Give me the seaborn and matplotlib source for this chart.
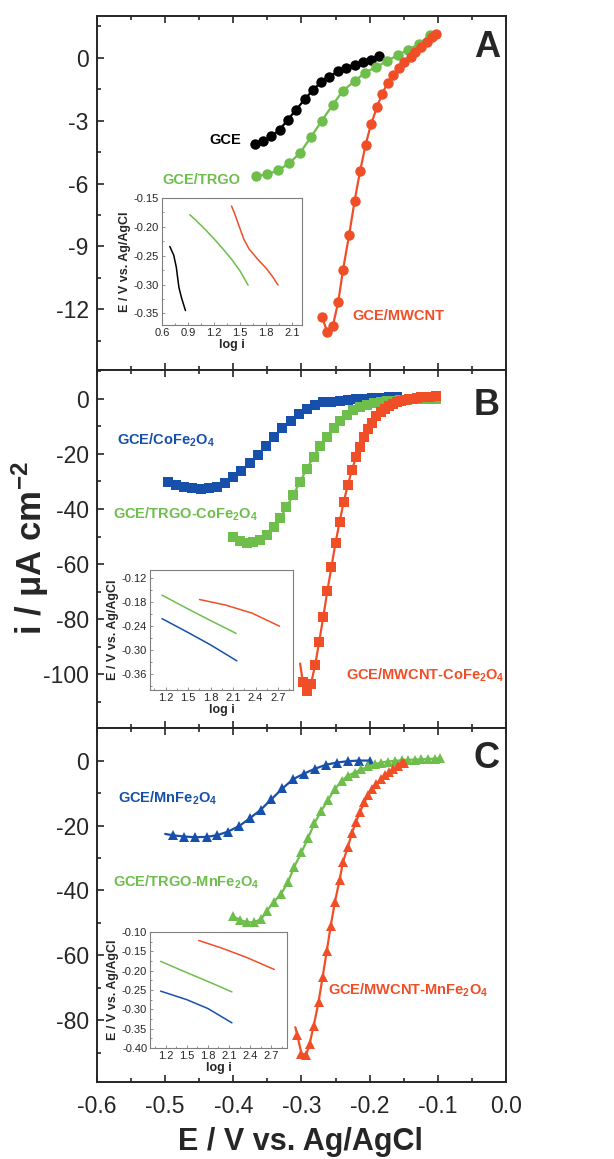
import matplotlib.pyplot as plt
import seaborn as sns
from matplotlib.ticker import MultipleLocator

sns.set_style("ticks")
plt.rcParams["font.family"] = ["Liberation Sans", "DejaVu Sans"]
plt.rcParams["mathtext.fontset"] = "custom"
plt.rcParams["mathtext.rm"] = "Liberation Sans"
plt.rcParams["mathtext.bf"] = "Liberation Sans:bold"
plt.rcParams["mathtext.default"] = "regular"
plt.rcParams["axes.unicode_minus"] = False

BLACK = "#000000"
GREEN = "#6dbe4b"
RED = "#f04e27"
BLUE = "#1650aa"

# Panel A: bare / TRGO / MWCNT electrodes (circles)
gce_E = [-0.368, -0.356, -0.344, -0.332, -0.320, -0.308, -0.295, -0.283,
         -0.271, -0.259, -0.247, -0.235, -0.222, -0.210, -0.198, -0.186]
gce_i = [-4.10, -3.98, -3.74, -3.43, -2.95, -2.48, -1.97, -1.53,
         -1.14, -0.90, -0.65, -0.47, -0.32, -0.19, -0.08, 0.08]
trgo_E = [-0.366, -0.350, -0.334, -0.318, -0.302, -0.286, -0.270, -0.254, -0.239,
          -0.222, -0.207, -0.190, -0.175, -0.159, -0.143, -0.127, -0.111]
trgo_i = [-5.64, -5.56, -5.36, -5.04, -4.53, -3.78, -2.99, -2.24, -1.56,
          -1.11, -0.71, -0.43, -0.16, 0.13, 0.39, 0.68, 1.11]
mwcnt_E = [-0.270, -0.262, -0.254, -0.246, -0.239, -0.230, -0.222, -0.214, -0.206,
           -0.198, -0.189, -0.182, -0.173, -0.165, -0.157, -0.149, -0.140, -0.133,
           -0.124, -0.116, -0.109, -0.103]
mwcnt_i = [-12.35, -13.11, -12.80, -11.64, -10.11, -8.44, -6.82, -5.40, -4.17,
           -3.16, -2.35, -1.72, -1.18, -0.82, -0.46, -0.19, 0.05, 0.28,
           0.52, 0.76, 1.00, 1.15]

# Panel B: CoFe2O4 electrodes (squares)
co_E = [-0.496, -0.484, -0.472, -0.460, -0.448, -0.436, -0.424, -0.412, -0.400, -0.388,
        -0.376, -0.364, -0.352, -0.340, -0.328, -0.316, -0.304, -0.292, -0.280, -0.268,
        -0.256, -0.244, -0.232, -0.220, -0.208, -0.196, -0.184, -0.172, -0.160]
co_i = [-30.1, -31.3, -31.9, -32.5, -32.7, -32.5, -31.9, -30.4, -28.5, -26.1,
        -23.4, -20.4, -17.1, -13.7, -10.7, -7.9, -5.5, -3.8, -2.2, -1.3,
        -1.0, -0.6, -0.4, -0.1, 0.0, 0.2, 0.4, 0.6, 0.8]
tco_E = [-0.400, -0.390, -0.380, -0.371, -0.361, -0.351, -0.341, -0.331, -0.322, -0.312,
         -0.302, -0.292, -0.282, -0.273, -0.263, -0.253, -0.243, -0.233, -0.224, -0.214,
         -0.204, -0.194, -0.184, -0.175, -0.165, -0.155, -0.145, -0.135, -0.126, -0.116,
         -0.103]
tco_i = [-50.3, -51.5, -52.2, -52.1, -51.3, -49.5, -46.4, -43.2, -39.2, -34.9,
         -30.1, -25.3, -21.0, -17.1, -13.7, -10.7, -7.9, -5.8, -4.2, -3.0,
         -2.2, -1.6, -1.2, -0.8, -0.6, -0.5, -0.4, -0.2, -0.1, -0.1,
         0.0]
mco_E = [-0.302, -0.298, -0.292, -0.286, -0.280, -0.274, -0.268, -0.262, -0.256, -0.250,
         -0.244, -0.238, -0.232, -0.226, -0.220, -0.214, -0.208, -0.202, -0.196, -0.190,
         -0.184, -0.178, -0.172, -0.166, -0.160, -0.154, -0.148, -0.142, -0.136, -0.130,
         -0.124, -0.118, -0.112, -0.103]
mco_i = [-96.1, -102.8, -106.1, -103.4, -96.7, -88.2, -79.2, -69.7, -61.0, -52.2,
         -44.6, -37.3, -31.3, -25.8, -21.2, -17.3, -13.9, -11.0, -8.6, -6.4,
         -4.8, -3.6, -2.5, -1.8, -1.2, -0.7, -0.4, -0.1, 0.1, 0.4,
         0.6, 0.7, 0.8, 1.1]

# Panel C: MnFe2O4 electrodes (triangles)
mn_E = [-0.500, -0.489, -0.472, -0.456, -0.439, -0.424, -0.408, -0.391, -0.376, -0.360,
        -0.344, -0.328, -0.312, -0.296, -0.280, -0.264, -0.248, -0.232, -0.216, -0.199]
mn_i = [-22.6, -23.0, -23.4, -23.6, -23.5, -23.0, -21.9, -20.1, -17.8, -15.2,
        -11.9, -8.6, -5.7, -4.0, -2.5, -1.3, -0.6, -0.2, 0.0, 0.0]
tmn_E = [-0.400, -0.390, -0.380, -0.370, -0.359, -0.351, -0.341, -0.330, -0.320, -0.311,
         -0.300, -0.290, -0.281, -0.271, -0.261, -0.251, -0.241, -0.232, -0.222, -0.212,
         -0.202, -0.192, -0.183, -0.173, -0.163, -0.153, -0.143, -0.134, -0.124, -0.114,
         -0.104, -0.097]
tmn_i = [-48.0, -49.1, -49.8, -49.8, -48.8, -46.4, -43.6, -41.1, -37.5, -32.9,
         -28.3, -23.7, -19.3, -15.5, -12.1, -8.8, -6.2, -4.7, -3.7, -2.7,
         -1.8, -1.1, -0.6, -0.3, -0.1, 0.1, 0.2, 0.3, 0.4, 0.5,
         0.6, 0.7]
mmn_E = [-0.309, -0.306, -0.300, -0.293, -0.288, -0.282, -0.275, -0.269, -0.263, -0.257,
         -0.251, -0.244, -0.239, -0.232, -0.226, -0.220, -0.214, -0.208, -0.202, -0.196,
         -0.190, -0.183, -0.177, -0.171, -0.165, -0.159, -0.153, -0.150]
mmn_i = [-82.1, -84.6, -90.3, -90.6, -87.2, -81.6, -74.4, -66.7, -58.8, -50.8,
         -43.6, -36.7, -31.1, -26.7, -22.3, -18.9, -15.8, -12.9, -10.7, -8.8,
         -7.3, -5.7, -4.5, -3.5, -2.5, -1.6, -0.9, -0.6]

# Tafel insets (log i vs E)
tafA_gce_x = [0.69, 0.735, 0.765, 0.78, 0.795, 0.825, 0.87]
tafA_gce_y = [-0.234, -0.249, -0.270, -0.288, -0.305, -0.323, -0.345]
tafA_trgo_x = [0.92, 1.0, 1.1, 1.2, 1.3, 1.4, 1.5, 1.59]
tafA_trgo_y = [-0.179, -0.190, -0.205, -0.221, -0.238, -0.256, -0.277, -0.301]
tafA_mw_x = [1.40, 1.44, 1.49, 1.54, 1.60, 1.70, 1.80, 1.88, 1.935]
tafA_mw_y = [-0.164, -0.179, -0.200, -0.221, -0.238, -0.256, -0.272, -0.288, -0.301]

tafB_co_x = [1.15, 1.5, 1.8, 2.15]
tafB_co_y = [-0.221, -0.256, -0.287, -0.327]
tafB_trgo_x = [1.15, 1.5, 1.8, 2.14]
tafB_trgo_y = [-0.162, -0.197, -0.226, -0.258]
tafB_mw_x = [1.65, 2.0, 2.35, 2.72]
tafB_mw_y = [-0.173, -0.187, -0.207, -0.240]

tafC_mn_x = [1.13, 1.5, 1.8, 2.14]
tafC_mn_y = [-0.253, -0.275, -0.298, -0.335]
tafC_trgo_x = [1.13, 1.5, 1.8, 2.14]
tafC_trgo_y = [-0.176, -0.205, -0.228, -0.255]
tafC_mw_x = [1.67, 2.0, 2.35, 2.74]
tafC_mw_y = [-0.122, -0.142, -0.166, -0.197]


def curve(ax, x, y, color, marker, ms, skip_first=False):
    # some curves start with a bare line stub before the first symbol
    every = slice(1, None) if skip_first else None
    sns.lineplot(x=x, y=y, ax=ax, color=color, marker=marker, markersize=ms,
                 markeredgecolor=color, markeredgewidth=0, linewidth=1.6,
                 markevery=every, sort=False, estimator=None, legend=False)


def style_main(ax, ylim, ymajor, yminor, letter, letter_y, show_x):
    ax.set_xlim(-0.6, 0.0)
    ax.set_ylim(*ylim)
    ax.xaxis.set_major_locator(MultipleLocator(0.1))
    ax.xaxis.set_minor_locator(MultipleLocator(0.05))
    ax.yaxis.set_major_locator(MultipleLocator(ymajor))
    ax.yaxis.set_minor_locator(MultipleLocator(yminor))
    ax.tick_params(which="both", direction="in", top=True, right=False,
                   labelsize=16.5, width=1.2, labelbottom=show_x)
    ax.tick_params(which="major", length=5, pad=6)
    ax.tick_params(which="minor", length=3)
    ax.tick_params(axis="x", pad=9)
    ax.xaxis.set_major_formatter(plt.FuncFormatter(lambda v, p: f"{v:.1f}"))
    ax.yaxis.set_major_formatter(plt.FuncFormatter(lambda v, p: f"{v:.0f}"))
    for s in ax.spines.values():
        s.set_linewidth(1.4)
    ax.set_xlabel("")
    ax.set_ylabel("")
    ax.text(0.953, letter_y, letter, transform=ax.transAxes, fontsize=26,
            fontweight="bold", ha="center", va="center")


def style_inset(ax, xlim, ylim, xmajor, ymajor):
    ax.set_facecolor("white")
    ax.set_xlim(*xlim)
    ax.set_ylim(*ylim)
    ax.xaxis.set_major_locator(MultipleLocator(xmajor))
    ax.xaxis.set_minor_locator(MultipleLocator(xmajor / 2))
    ax.yaxis.set_major_locator(MultipleLocator(ymajor))
    ax.yaxis.set_minor_locator(MultipleLocator(ymajor / 2))
    ax.tick_params(which="both", direction="in", labelsize=8, width=0.6,
                   color="#7f7f7f", pad=2)
    ax.tick_params(which="major", length=2.5)
    ax.tick_params(which="minor", length=1.5)
    ax.xaxis.set_major_formatter(plt.FuncFormatter(lambda v, p: f"{v:.1f}"))
    ax.yaxis.set_major_formatter(plt.FuncFormatter(lambda v, p: f"{v:.2f}"))
    for s in ax.spines.values():
        s.set_linewidth(0.8)
        s.set_color("#7f7f7f")
    ax.set_xlabel("log i", fontsize=9, fontweight="bold", labelpad=1)
    ax.set_ylabel("E / V vs. Ag/AgCl", fontsize=9, fontweight="bold", labelpad=2)


def taf(ax, x, y, color):
    sns.lineplot(x=x, y=y, ax=ax, color=color, linewidth=1.1, sort=False,
                 estimator=None, legend=False)


fig = plt.figure(figsize=(6.14, 11.59), dpi=100)
ax_a = fig.add_axes([0.158, 0.6808, 0.666, 0.3054])
ax_b = fig.add_axes([0.158, 0.3719, 0.666, 0.3089])
ax_c = fig.add_axes([0.158, 0.0664, 0.666, 0.3054])

# A
curve(ax_a, gce_E, gce_i, BLACK, "o", 7.5)
curve(ax_a, trgo_E, trgo_i, GREEN, "o", 7.5)
curve(ax_a, mwcnt_E, mwcnt_i, RED, "o", 7.5)
style_main(ax_a, (-14.9, 2.0), 3, 1.5, "A", 0.91, False)
lab = dict(fontsize=10.5, fontweight="bold", va="baseline")
ax_a.text(-0.389, -4.1, "GCE", color=BLACK, ha="right", **lab)
ax_a.text(-0.389, -6.0, "GCE/TRGO", color=GREEN, ha="right", **lab)
ax_a.text(-0.225, -12.5, "GCE/MWCNT", color=RED, ha="left", **lab)

# B
curve(ax_b, co_E, co_i, BLUE, "s", 6.5)
curve(ax_b, tco_E, tco_i, GREEN, "s", 6.5)
curve(ax_b, mco_E, mco_i, RED, "s", 6.5, skip_first=True)
style_main(ax_b, (-119.5, 10.5), 20, 10, "B", 0.902, False)
ax_b.text(-0.571, -16.7, "GCE/CoFe$_2$O$_4$", color=BLUE, ha="left", **lab)
ax_b.text(-0.576, -43.6, "GCE/TRGO-CoFe$_2$O$_4$", color=GREEN, ha="left", **lab)
ax_b.text(-0.234, -101.8, "GCE/MWCNT-CoFe$_2$O$_4$", color=RED, ha="left", **lab)

# C
curve(ax_c, mn_E, mn_i, BLUE, "^", 7.5, skip_first=True)
curve(ax_c, tmn_E, tmn_i, GREEN, "^", 7.5)
curve(ax_c, mmn_E, mmn_i, RED, "^", 7.5, skip_first=True)
style_main(ax_c, (-99, 10), 20, 10, "C", 0.915, True)
ax_c.text(-0.569, -12.9, "GCE/MnFe$_2$O$_4$", color=BLUE, ha="left", **lab)
ax_c.text(-0.576, -38.8, "GCE/TRGO-MnFe$_2$O$_4$", color=GREEN, ha="left", **lab)
ax_c.text(-0.261, -72.0, "GCE/MWCNT-MnFe$_2$O$_4$", color=RED, ha="left", **lab)

# insets
in_a = fig.add_axes([0.2638, 0.7196, 0.228, 0.1096])
taf(in_a, tafA_gce_x, tafA_gce_y, BLACK)
taf(in_a, tafA_trgo_x, tafA_trgo_y, GREEN)
taf(in_a, tafA_mw_x, tafA_mw_y, RED)
style_inset(in_a, (0.6, 2.21), (-0.37, -0.15), 0.3, 0.05)

in_b = fig.add_axes([0.2443, 0.4047, 0.2329, 0.1035])
taf(in_b, tafB_co_x, tafB_co_y, BLUE)
taf(in_b, tafB_trgo_x, tafB_trgo_y, GREEN)
taf(in_b, tafB_mw_x, tafB_mw_y, RED)
style_inset(in_b, (0.99, 2.9), (-0.40, -0.099), 0.3, 0.06)
in_b.set_yticks([-0.36, -0.30, -0.24, -0.18, -0.12])

in_c = fig.add_axes([0.2443, 0.0958, 0.2231, 0.1001])
taf(in_c, tafC_mn_x, tafC_mn_y, BLUE)
taf(in_c, tafC_trgo_x, tafC_trgo_y, GREEN)
taf(in_c, tafC_mw_x, tafC_mw_y, RED)
style_inset(in_c, (0.98, 2.92), (-0.40, -0.10), 0.3, 0.05)

# shared axis titles
fig.text(0.049, 0.527, "i / \u03bcA cm$^{\\mathbf{-2}}$", rotation=90, fontsize=25,
         fontweight="bold", ha="center", va="center")
fig.text(0.490, 0.008, "E / V vs. Ag/AgCl", fontsize=22, fontweight="bold",
         ha="center", va="baseline")

fig.savefig("out.png", dpi=100)
